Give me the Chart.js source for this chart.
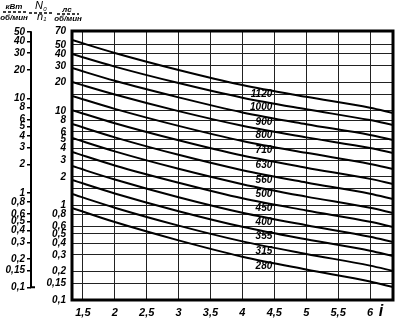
<!DOCTYPE html>
<html><head><meta charset="utf-8">
<script src="https://cdn.jsdelivr.net/npm/chart.js@4.4.1/dist/chart.umd.min.js"></script>
<style>html,body{margin:0;padding:0;background:#fff;}canvas{display:block;}</style>
</head><body>
<canvas id="c" width="396" height="320"></canvas>
<script>
// gear ratio positions where curve values were read
const iValues = [1.33, 2, 3, 4, 5, 6, 6.36];
// curve names (centre distance)
const curveNames = ['1120','1000','900','800','710','630','560','500','450','400','355','315','280'];
// N0/n1 values, hp per rev/min
const c1120 = [56.2, 41.0, 27.1, 18.8, 14.1, 10.8, 9.5];
const c1000 = [40.0, 29.4, 19.7, 13.8, 10.4, 8.0, 7.1];
const c900  = [28.4, 20.8, 13.9, 9.64, 7.23, 5.56, 4.92];
const c800  = [20.2, 14.9, 9.95, 6.97, 5.25, 4.05, 3.59];
const c710  = [14.4, 10.5, 6.94, 4.81, 3.60, 2.75, 2.43];
const c630  = [10.2, 7.41, 4.89, 3.37, 2.51, 1.91, 1.69];
const c560  = [7.27, 5.25, 3.43, 2.36, 1.75, 1.33, 1.17];
const c500  = [5.17, 3.73, 2.44, 1.68, 1.24, 0.944, 0.832];
const c450  = [3.68, 2.65, 1.74, 1.19, 0.885, 0.672, 0.592];
const c400  = [2.61, 1.88, 1.22, 0.836, 0.617, 0.467, 0.411];
const c355  = [1.86, 1.34, 0.870, 0.595, 0.438, 0.332, 0.292];
const c315  = [1.32, 0.946, 0.612, 0.417, 0.307, 0.231, 0.203];
const c280  = [0.940, 0.667, 0.427, 0.287, 0.210, 0.157, 0.137];
const curves = [c1120, c1000, c900, c800, c710, c630, c560, c500, c450, c400, c355, c315, c280];

const xTicks = [1.5, 2, 2.5, 3, 3.5, 4, 4.5, 5, 5.5, 6];
const xLabels = ['1,5','2','2,5','3','3,5','4','4,5','5','5,5','6'];
const yTicksHp = [70,50,40,30,20,15,10,8,6,5,4,3,2,1.5,1,0.8,0.6,0.5,0.4,0.3,0.2,0.15,0.1];
const yLabelsHp = ['70','50','40','30','20','','10','8','6','5','4','3','2','','1','0,8','0,6','0,5','0,4','0,3','0,2','0,15','0,1'];
const yTicksKw = [50,40,30,20,10,8,6,5,4,3,2,1,0.8,0.6,0.5,0.4,0.3,0.2,0.15,0.1];
const yLabelsKw = ['50','40','30','20','10','8','6','5','4','3','2','1','0,8','0,6','0,5','0,4','0,3','0,2','0,15','0,1'];
const HP_PER_KW = 1.36;
const xMin = 1.33, xMax = 6.36, yMin = 0.1, yMax = 70;

const FONT = '"Liberation Sans", Arial, sans-serif';
const tickFont = {family: FONT, size: 10, style: 'italic', weight: 'bold'};
const xTickFont = {family: FONT, size: 11, style: 'italic', weight: 'bold'};

const datasets = curves.map((arr, k) => ({
  label: curveNames[k],
  data: iValues.map((x, j) => ({x: x, y: arr[j]})),
  borderColor: '#000',
  borderWidth: 2,
  pointRadius: 0,
  fill: false,
  tension: 0.4,
  cubicInterpolationMode: 'monotone',
  yAxisID: 'y'
}));

const overlay = {
  id: 'overlay',
  afterDraw(chart) {
    const ctx = chart.ctx;
    const a = chart.chartArea;
    const xs = chart.scales.x, yk = chart.scales.yk;
    ctx.save();
    // frame
    ctx.strokeStyle = '#000';
    ctx.lineWidth = 3;
    ctx.strokeRect(a.left, a.top, a.right - a.left, a.bottom - a.top);
    // outer kW axis line
    const lx = yk.right;
    const yTop = yk.getPixelForValue(yTicksKw[0]);
    const yBot = yk.getPixelForValue(yTicksKw[yTicksKw.length - 1]);
    ctx.lineWidth = 2;
    ctx.beginPath();
    ctx.moveTo(lx, yTop - 1);
    ctx.lineTo(lx, yBot);
    ctx.lineTo(lx + 4, yBot);
    ctx.stroke();
    // curve labels
    ctx.fillStyle = '#000';
    ctx.font = 'italic bold 10px ' + FONT;
    ctx.textAlign = 'right';
    ctx.textBaseline = 'middle';
    const labRight = xs.getPixelForValue(4.5) - 2;
    const labX = labRight - 11;
    chart.data.datasets.forEach((ds, k) => {
      const pts = chart.getDatasetMeta(k).data;
      let yc = null;
      for (let j = 0; j < pts.length - 1; j++) {
        if (pts[j].x <= labX && pts[j + 1].x >= labX) {
          const t = (labX - pts[j].x) / (pts[j + 1].x - pts[j].x);
          yc = pts[j].y + t * (pts[j + 1].y - pts[j].y);
        }
      }
      if (yc !== null) ctx.fillText(ds.label, labRight, yc + 6);
    });
    // axis symbol i
    ctx.font = 'italic bold 16px ' + FONT;
    ctx.textAlign = 'center';
    ctx.fillText('i', a.right - 12, 312);
    // header
    ctx.font = 'italic bold 8px ' + FONT;
    ctx.textBaseline = 'alphabetic';
    ctx.fillText('кВт', 14, 9);
    ctx.fillText('об/мин', 14, 20);
    ctx.fillText('лс', 67, 12);
    ctx.fillText('об/мин', 68, 21);
    ctx.font = 'italic 11px ' + FONT;
    ctx.fillText('N', 39, 9);
    ctx.fillText('n', 40, 20);
    ctx.font = 'italic 6px ' + FONT;
    ctx.fillText('0', 45, 11);
    ctx.fillText('1', 45, 21);
    ctx.setLineDash([3, 2]);
    ctx.lineWidth = 1.5;
    ctx.beginPath();
    ctx.moveTo(3, 12); ctx.lineTo(26, 12);
    ctx.moveTo(29, 13); ctx.lineTo(53, 13);
    ctx.moveTo(57, 14); ctx.lineTo(79, 14);
    ctx.stroke();
    ctx.restore();
  }
};

new Chart(document.getElementById('c'), {
  type: 'line',
  data: {datasets: datasets},
  options: {
    responsive: false,
    animation: false,
    devicePixelRatio: 1,
    layout: {padding: {top: 31, right: 3, left: 0, bottom: 0}},
    plugins: {legend: {display: false}, tooltip: {enabled: false}},
    scales: {
      x: {
        type: 'linear', min: xMin, max: xMax,
        afterBuildTicks: s => { s.ticks = xTicks.map(v => ({value: v})); },
        afterFit: s => { s.height = 20; },
        ticks: {font: xTickFont, color: '#000', padding: 6, autoSkip: false, maxRotation: 0,
                callback: v => xLabels[xTicks.indexOf(v)]},
        grid: {color: '#222', lineWidth: 1, drawTicks: false},
        border: {display: false}
      },
      y: {
        type: 'logarithmic', position: 'left', min: yMin, max: yMax, weight: 0,
        afterBuildTicks: s => { s.ticks = yTicksHp.map(v => ({value: v})); },
        afterFit: s => { s.width = 41; },
        ticks: {font: tickFont, color: '#000', padding: 6, autoSkip: false,
                callback: v => yLabelsHp[yTicksHp.indexOf(v)]},
        grid: {color: '#222', lineWidth: 1, drawTicks: false},
        border: {display: false}
      },
      yk: {
        type: 'logarithmic', position: 'left', min: yMin / HP_PER_KW, max: yMax / HP_PER_KW, weight: 1,
        afterBuildTicks: s => { s.ticks = yTicksKw.map(v => ({value: v})); },
        afterFit: s => { s.width = 31; },
        ticks: {font: tickFont, color: '#000', padding: 2, autoSkip: false,
                callback: v => yLabelsKw[yTicksKw.indexOf(v)]},
        grid: {color: '#000', lineWidth: 1.5, drawOnChartArea: false, drawTicks: true, tickLength: 4},
        border: {display: false}
      }
    }
  },
  plugins: [overlay]
});
</script>
</body></html>
